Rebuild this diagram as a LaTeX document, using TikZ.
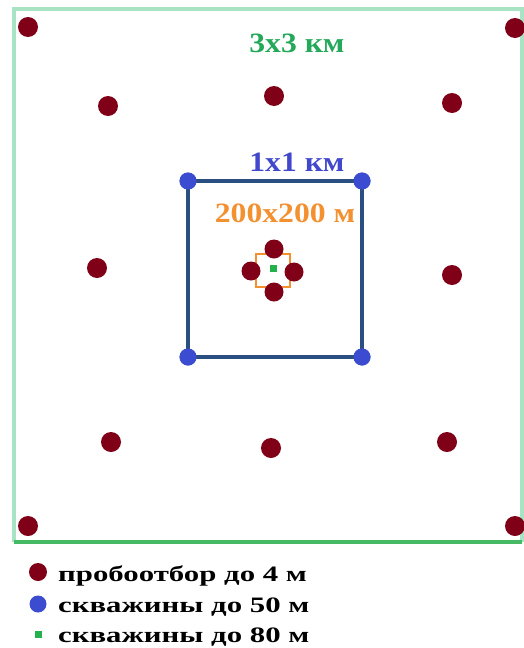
\documentclass[tikz,border=0pt]{standalone}
\usepackage{fontspec}
\setmainfont{Liberation Serif}
\newfontfamily\lblfont[FakeStretch=1.13]{Liberation Serif}
\newfontfamily\legfont[FakeStretch=1.4]{Liberation Serif}
\definecolor{dotred}{RGB}{128,0,24}
\definecolor{framegreen}{RGB}{168,228,196}
\definecolor{framegreenb}{RGB}{70,185,100}
\definecolor{txtgreen}{RGB}{36,168,90}
\definecolor{txtblue}{RGB}{66,72,204}
\definecolor{sqblue}{RGB}{44,79,130}
\definecolor{dotblue}{RGB}{60,76,208}
\definecolor{orng}{RGB}{243,144,48}
\definecolor{cgreen}{RGB}{34,177,76}
\begin{document}
\begin{tikzpicture}[x=1pt,y=-1pt,
  sample/.style={circle,fill=dotred,inner sep=0pt,minimum size=20pt},
  corner/.style={circle,fill=dotblue,inner sep=0pt,minimum size=17pt},
  well/.style={rectangle,fill=cgreen,inner sep=0pt,minimum size=7pt},
  lbl/.style={anchor=base,inner sep=0pt,font=\lblfont\bfseries\fontsize{28}{30}\selectfont},
  leg/.style={anchor=base west,inner sep=0pt,font=\legfont\bfseries\fontsize{22}{24}\selectfont}]
\useasboundingbox (0,0) rectangle (524,648);
% outer 3x3 frame
\coordinate (g1) at (14,9);
\coordinate (g2) at (522,9);
\coordinate (g3) at (522,542);
\coordinate (g4) at (14,542);
\draw[framegreen,line width=3.5pt] (g4) -- (g1) -- (g2) -- (g3);
\draw[framegreenb,line width=3.5pt] (g4) -- (g3);
\node[lbl,text=txtgreen] (t3) at (297,52) {3x3 км};
% samples
\foreach \n/\x/\y in {s1/28/27, s2/515/28, s3/108/106, s4/274/96, s5/452/103,
  s6/97/268, s7/452/275, s8/111/442, s9/271/448, s10/447/442, s11/28/526, s12/515/526}
  \node[sample] (\n) at (\x,\y) {};
% 1x1 km square
\node[corner] (b1) at (188,181) {};
\node[corner] (b2) at (362,181) {};
\node[corner] (b3) at (362,357) {};
\node[corner] (b4) at (188,357) {};
\draw[sqblue,line width=3.5pt] (b1.center) -- (b2.center) -- (b3.center) -- (b4.center) -- cycle;
\foreach \n in {b1,b2,b3,b4} \fill[dotblue] (\n) circle (8.5pt);
\node[lbl,text=txtblue] (t1) at (297,171) {1x1 км};
% 200x200 m
\node[lbl,text=orng] (t2) at (285,222) {200x200 м};
\draw[orng,line width=2pt] (256,254) rectangle (290,287);
\node[sample,minimum size=19pt] (c1) at (274,249) {};
\node[sample,minimum size=19pt] (c2) at (251,271) {};
\node[sample,minimum size=19pt] (c3) at (294,272) {};
\node[sample,minimum size=19pt] (c4) at (274,292) {};
\node[well] (w0) at (273,268) {};
% legend
\node[sample,minimum size=18pt] (l1) at (38,572) {};
\node[corner] (l2) at (38,604) {};
\node[well] (l3) at (38,634) {};
\node[leg] (lt1) at (58,581) {пробоотбор до 4 м};
\node[leg] (lt2) at (58,612) {скважины до 50 м};
\node[leg] (lt3) at (58,642) {скважины до 80 м};
\end{tikzpicture}
\end{document}
